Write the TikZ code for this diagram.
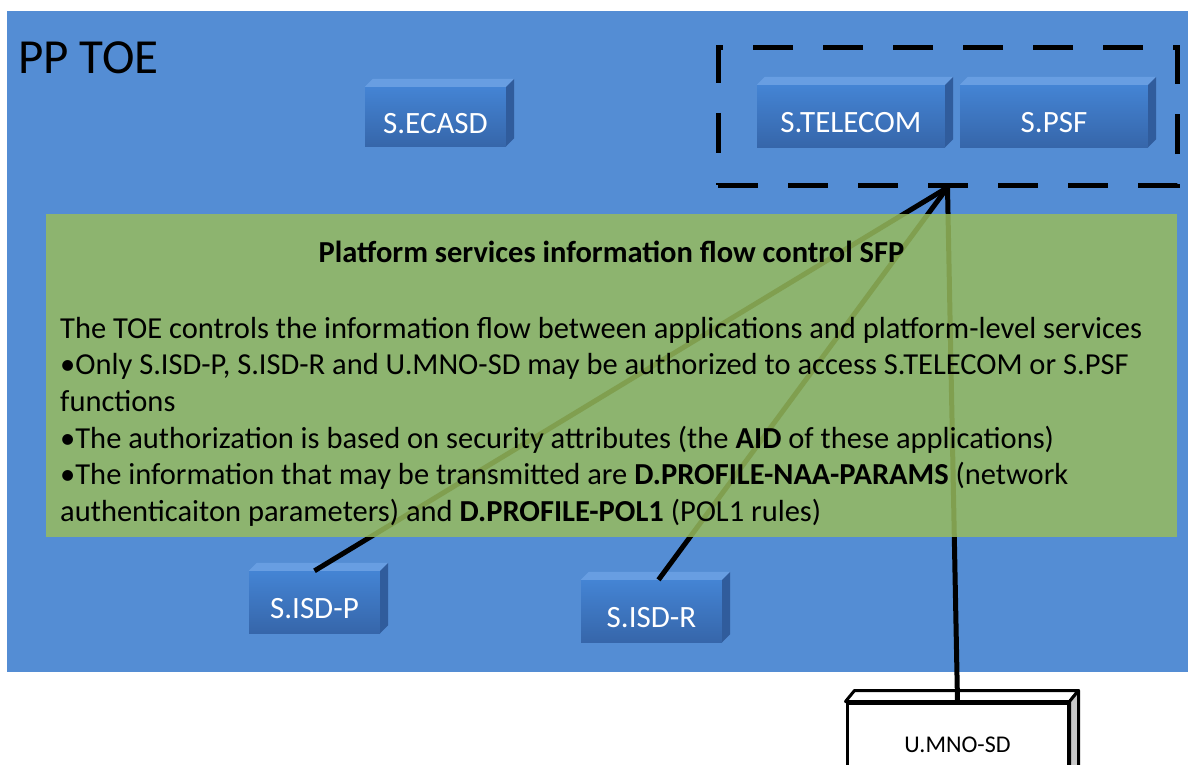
\documentclass[tikz,border=0pt]{standalone}
\usepackage{fontspec}
\setmainfont{Carlito}
\definecolor{toeblue}{RGB}{84,141,212}
\definecolor{sfpgreen}{RGB}{151,187,94}
\definecolor{boxtop}{RGB}{68,132,212}
\definecolor{boxbot}{RGB}{54,102,170}
\definecolor{boxlid}{RGB}{104,158,226}
\definecolor{boxside}{RGB}{48,92,156}
\definecolor{mnoside}{RGB}{200,200,200}

\begin{document}
\begin{tikzpicture}[x=1pt,y=-1pt,
    service/.style={rectangle, inner sep=0pt, top color=boxtop, bottom color=boxbot,
      text=white, text height=33pt, text depth=0pt, font=\fontsize{31}{36}\selectfont},
    flow/.style={line width=5pt, black},
  ]
  \useasboundingbox (0,0) rectangle (1188,765);
  % TOE area
  \fill[toeblue] (7,11) rectangle (1188,672);
  \node[anchor=base west, inner sep=0pt, font=\fontsize{49}{54}\selectfont] (toe) at (18,74) {PP TOE};

  % services
  \node[service, minimum width=141pt, minimum height=59pt] (ecasd) at (435.5,116.5) {S.ECASD};
  \node[service, minimum width=188pt, minimum height=62pt] (telecom) at (851,116) {S.TELECOM};
  \node[service, minimum width=188pt, minimum height=62pt] (psf) at (1054,116) {S.PSF};
  \node[service, minimum width=131pt, minimum height=62pt] (isdp) at (314.5,602) {S.ISD-P};
  \node[service, minimum width=141pt, minimum height=62pt] (isdr) at (651.5,611) {S.ISD-R};
  \foreach \n in {ecasd,telecom,psf,isdp,isdr}{
    \fill[boxlid] (\n.north west) -- ([shift={(8pt,8pt)}]\n.north west)
      -- ([shift={(8pt,8pt)}]\n.north east) -- (\n.north east) -- cycle;
    \fill[boxside] (\n.north east) -- ([shift={(8pt,8pt)}]\n.north east)
      -- ([shift={(8pt,8pt)}]\n.south east) -- (\n.south east) -- cycle;
  }

  % user application outside the TOE
  \node[draw=black, line width=3pt, fill=white, inner sep=0pt, minimum width=221pt,
    minimum height=84pt, font=\fontsize{24}{28}\selectfont] (mno) at (957.5,745) {U.MNO-SD};
  \filldraw[line width=3pt, line join=round, fill=white] (mno.north west) -- ([shift={(9pt,11pt)}]mno.north west)
    -- ([shift={(9pt,11pt)}]mno.north east) -- (mno.north east) -- cycle;
  \filldraw[line width=3pt, line join=round, fill=mnoside] (mno.north east) -- ([shift={(9pt,11pt)}]mno.north east)
    -- ([shift={(9pt,11pt)}]mno.south east) -- (mno.south east) -- cycle;

  % platform services group
  \node[draw, line width=5pt, dash pattern=on 40pt off 30pt, minimum width=459pt,
    minimum height=137pt] (grp) at (947.5,116.5) {};

  % flows
  \draw[flow] (isdp.north) -- (grp.south);
  \draw[flow] ([xshift=7pt]isdr.north) -- (grp.south);
  \draw[flow] (mno.north) -- (grp.south);

  % SFP
  \node[fill=sfpgreen, fill opacity=0.85, inner sep=0pt, minimum width=1131pt,
    minimum height=323pt] (sfp) at (611.5,375.5) {};
  \node[anchor=base, inner sep=0pt, font=\bfseries\fontsize{30.5}{36}\selectfont] (sfptitle)
    at (611.5,262) {Platform services information flow control SFP};
  \node[anchor=north west, align=left, inner sep=0pt, font=\fontsize{30.5}{36.6}\selectfont] (sfpbody)
    at (60,317) {The TOE controls the information flow between applications and platform-level services\\
    •Only S.ISD-P, S.ISD-R and U.MNO-SD may be authorized to access S.TELECOM or S.PSF\\
    functions\\
    •The authorization is based on security attributes (the \textbf{AID} of these applications)\\
    •The information that may be transmitted are \textbf{D.PROFILE-NAA-PARAMS} (network\\
    authenticaiton parameters) and \textbf{D.PROFILE-POL1} (POL1 rules)};
\end{tikzpicture}
\end{document}
